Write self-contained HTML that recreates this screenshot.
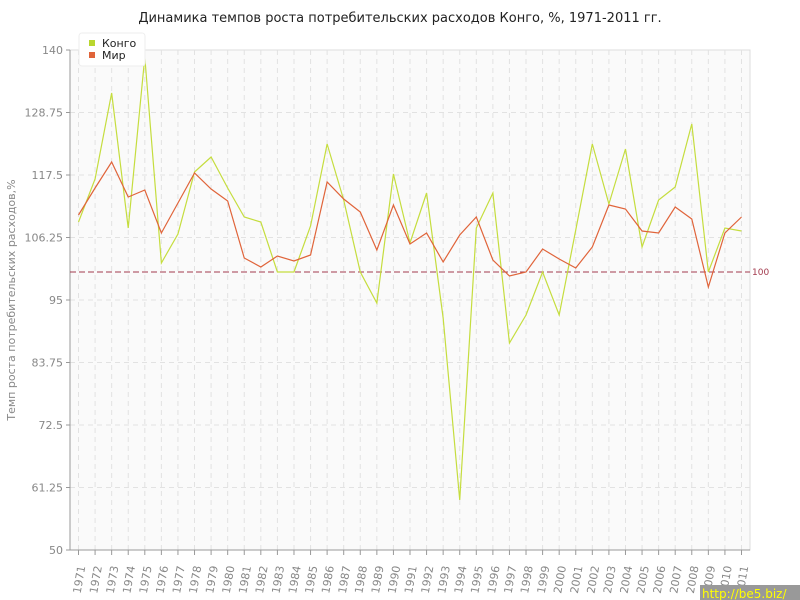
<!DOCTYPE html>
<html><head><meta charset="utf-8"><style>body{margin:0;background:#fff}svg{display:block}</style></head><body>
<svg width="800" height="600" xmlns="http://www.w3.org/2000/svg" font-family="'DejaVu Sans','Liberation Sans',sans-serif">
<rect width="800" height="600" fill="#fff"/>
<text x="400" y="22" text-anchor="middle" font-size="13" fill="#222">Динамика темпов роста потребительских расходов Конго, %, 1971-2011 гг.</text>
<rect x="70" y="50" width="680" height="500" fill="#fafafa" stroke="#ddd"/>
<g id="grid" stroke="#e2e2e2" stroke-dasharray="5,4"></g>
<line x1="70" y1="50" x2="70" y2="550" stroke="#999"/>
<line x1="70" y1="550" x2="750" y2="550" stroke="#999"/>
<g id="yt" font-size="11" fill="#888" text-anchor="end"></g>
<g id="xt" font-size="11" fill="#888"></g>
<line x1="70" y1="272" x2="750" y2="272" stroke="#a33b4e" stroke-dasharray="6,3"/>
<text x="752" y="275" font-size="9" fill="#a33b4e">100</text>
<polyline id="g" fill="none" stroke="#c5dd3e" stroke-width="1.2"/>
<polyline id="o" fill="none" stroke="#e0643a" stroke-width="1.2"/>
<rect x="79" y="33" width="66" height="33" rx="3" fill="#fff" stroke="#eee"/>
<rect x="89" y="40" width="6" height="6" fill="#b9d62e"/>
<text x="102" y="47" font-size="11" fill="#222">Конго</text>
<rect x="89" y="52" width="6" height="6" fill="#e0643a"/>
<text x="102" y="59" font-size="11" fill="#222">Мир</text>
<text transform="translate(15,300) rotate(-90)" text-anchor="middle" font-size="11" fill="#888">Темп роста потребительских расходов,%</text>
<rect x="700" y="585" width="100" height="15" fill="#999"/>
<text x="702" y="598" font-size="12" fill="#ff0">http://be5.biz/</text>
</svg>
<script>
var ns="http://www.w3.org/2000/svg";
function el(p,t,a,txt){var e=document.createElementNS(ns,t);for(var k in a)e.setAttribute(k,a[k]);if(txt)e.textContent=txt;document.getElementById(p).appendChild(e);}
var ys=["50","61.25","72.5","83.75","95","106.25","117.5","128.75","140"];
for(var i=0;i<9;i++){var y=550-i*62.5;if(i>0&&i<8)el("grid","line",{x1:70,x2:750,y1:y,y2:y});
el("yt","text",{x:63,y:y+4},ys[i]);el("yt","line",{x1:66,x2:70,y1:y,y2:y,stroke:"#999"});}
var X=function(i){return 78.5+i*16.575};
for(var i=0;i<41;i++){var x=X(i);el("grid","line",{x1:x,x2:x,y1:50,y2:550});
el("xt","line",{x1:x,x2:x,y1:550,y2:555,stroke:"#999"});
el("xt","text",{transform:"translate("+(x+2)+",594) rotate(-80)"},String(1971+i));}
var g=[222,179,93,228,57,263,234,172,157,188,217,222,272,272,226,144,200,272,303,174,243,193,318,500,228,193,343,315,272,315,230,144,204,149,247,200,187,124,272,228,231];
var o=[215,188,162,197,190,233,203,173,189,201,258,267,256,261,255,182,199,212,250,205,244,233,262,235,217,260,276,272,249,259,268,247,205,209,231,233,207,219,287,233,217];
document.getElementById("g").setAttribute("points",g.map(function(v,i){return X(i)+","+v}).join(" "));
document.getElementById("o").setAttribute("points",o.map(function(v,i){return X(i)+","+v}).join(" "));
</script>
</body></html>
